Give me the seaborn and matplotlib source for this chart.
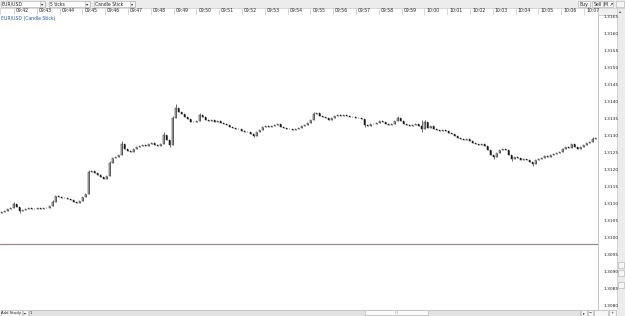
import numpy as np
import pandas as pd
import matplotlib
matplotlib.use("Agg")
import matplotlib.pyplot as plt
from matplotlib.patches import Rectangle
import seaborn as sns

# ---------------- data ----------------
symbol = "EUR/USD"
period_label = "5 ticks"
chart_type = "Candle Stick"
chart_title = "EUR/USD (Candle Stick)"

time_labels = ["09:42", "09:43", "09:44", "09:45", "09:46", "09:47", "09:48", "09:49",
               "09:50", "09:51", "09:52", "09:53", "09:54", "09:55", "09:56", "09:57",
               "09:58", "09:59", "10:00", "10:01", "10:02", "10:03", "10:04", "10:05",
               "10:06", "10:07"]

price_ticks = [1.3080, 1.3085, 1.3090, 1.3095, 1.3100, 1.3105, 1.3110, 1.3115, 1.3120,
               1.3125, 1.3130, 1.3135, 1.3140, 1.3145, 1.3150, 1.3155, 1.3160, 1.3165]

first_open = 1.31072
closes = [
    1.31075, 1.31078, 1.31084, 1.31087, 1.31099, 1.31090, 1.31078, 1.31081, 1.31084, 1.31087,
    1.31084, 1.31084, 1.31087, 1.31084, 1.31087, 1.31087, 1.31093, 1.31105, 1.31122, 1.31119,
    1.31116, 1.31116, 1.31113, 1.31110, 1.31105, 1.31102, 1.31107, 1.31119, 1.31128, 1.31193,
    1.31196, 1.31190, 1.31184, 1.31178, 1.31172, 1.31181, 1.31219, 1.31234, 1.31237, 1.31243,
    1.31275, 1.31260, 1.31254, 1.31252, 1.31260, 1.31266, 1.31269, 1.31272, 1.31269, 1.31275,
    1.31278, 1.31272, 1.31269, 1.31275, 1.31302, 1.31287, 1.31272, 1.31351, 1.31381, 1.31369,
    1.31363, 1.31354, 1.31349, 1.31340, 1.31340, 1.31343, 1.31360, 1.31354, 1.31346, 1.31343,
    1.31346, 1.31340, 1.31343, 1.31337, 1.31334, 1.31331, 1.31325, 1.31322, 1.31319, 1.31319,
    1.31313, 1.31310, 1.31310, 1.31304, 1.31299, 1.31310, 1.31316, 1.31325, 1.31328, 1.31325,
    1.31328, 1.31331, 1.31334, 1.31325, 1.31322, 1.31319, 1.31319, 1.31316, 1.31319, 1.31322,
    1.31328, 1.31331, 1.31337, 1.31346, 1.31363, 1.31366, 1.31357, 1.31354, 1.31351, 1.31346,
    1.31351, 1.31357, 1.31360, 1.31357, 1.31360, 1.31357, 1.31354, 1.31354, 1.31351, 1.31351,
    1.31349, 1.31331, 1.31328, 1.31334, 1.31334, 1.31337, 1.31343, 1.31340, 1.31334, 1.31331,
    1.31334, 1.31343, 1.31351, 1.31343, 1.31334, 1.31331, 1.31328, 1.31331, 1.31334, 1.31328,
    1.31319, 1.31340, 1.31322, 1.31328, 1.31319, 1.31316, 1.31313, 1.31316, 1.31313, 1.31307,
    1.31304, 1.31299, 1.31293, 1.31290, 1.31287, 1.31290, 1.31284, 1.31278, 1.31275, 1.31272,
    1.31275, 1.31269, 1.31257, 1.31243, 1.31237, 1.31249, 1.31257, 1.31260, 1.31257, 1.31243,
    1.31231, 1.31237, 1.31234, 1.31228, 1.31231, 1.31228, 1.31222, 1.31216, 1.31228, 1.31231,
    1.31234, 1.31240, 1.31237, 1.31243, 1.31246, 1.31249, 1.31252, 1.31260, 1.31266, 1.31263,
    1.31275, 1.31266, 1.31260, 1.31266, 1.31272, 1.31278, 1.31281, 1.31290, 1.31293,
]
# wick extremes beyond the candle body (only where visible)
spike_highs = {4: 1.31105, 17: 1.31110, 29: 1.31199, 36: 1.31225, 40: 1.31284, 54: 1.31310,
               57: 1.31357, 58: 1.31393, 66: 1.31366, 104: 1.31369, 132: 1.31357,
               140: 1.31346, 141: 1.31346, 187: 1.31263, 197: 1.31296}
spike_lows = {6: 1.31072, 56: 1.31266, 84: 1.31296, 121: 1.31325, 140: 1.31310,
              164: 1.31231, 170: 1.31225, 177: 1.31210, 190: 1.31263}
price_line = 1.30981

# ---------------- frame ----------------
opens = [first_open] + closes[:-1]
df = pd.DataFrame({"open": opens, "close": closes})
df["idx"] = np.arange(len(df))
df["high"] = [spike_highs.get(i, max(o, c)) for i, (o, c) in enumerate(zip(opens, closes))]
df["low"] = [spike_lows.get(i, min(o, c)) for i, (o, c) in enumerate(zip(opens, closes))]
df["up"] = df["close"] >= df["open"]

sns.set_style("white")
plt.rcParams["font.family"] = ["DejaVu Sans"]

W, H = 625, 316
fig = plt.figure(figsize=(W / 100, H / 100), dpi=100)
fig.patch.set_facecolor("white")

# UI chrome layer in pixel coordinates
ui = fig.add_axes([0, 0, 1, 1], zorder=0)
ui.set_xlim(0, W)
ui.set_ylim(H, 0)
ui.axis("off")

def box(x0, y0, x1, y1, fc="white", ec="#b8b8b8", lw=0.5, z=1):
    ui.add_patch(Rectangle((x0, y0), x1 - x0, y1 - y0, facecolor=fc, edgecolor=ec, lw=lw, zorder=z))

# toolbar
box(0, 0, W, 8, fc="#ececec", ec="none")
fs_ui = 3.3
for (x0, x1, txt) in [(0, 45, symbol), (48, 90, period_label), (93, 135, chart_type)]:
    box(x0 + 0.5, 0.8, x1, 7.2)
    box(x1 - 5, 0.8, x1, 7.2, fc="#f4f4f4")
    ui.text(x0 + 2, 4.1, txt, fontsize=fs_ui, va="center", ha="left", color="#222222", zorder=3)
    ui.text(x1 - 2.5, 4.1, "▾", fontsize=3.2, va="center", ha="center", color="#333333", zorder=3)
for (x0, x1, txt) in [(578, 590, "Buy"), (592, 603, "Sell"), (604, 613, "M ↗")]:
    box(x0, 0.8, x1, 7.2, fc="#f6f6f6")
    ui.text((x0 + x1) / 2, 4.1, txt, fontsize=fs_ui, va="center", ha="center", color="#222222", zorder=3)
box(616, 0.8, 624, 7.2, fc="#f6f6f6")

# time header row
box(0, 8, 598, 15, fc="white", ec="#c8c8c8")
box(598, 8, 617, 15, fc="#f0f0f0", ec="#c8c8c8")
box(617, 8, W, 316, fc="#ececec", ec="#c8c8c8")
ui.text(620.5, 11.5, "▴", fontsize=3, va="center", ha="center", color="#444444", zorder=3)

# price axis column
box(598, 15, 617, 310, fc="white", ec="#c8c8c8")

# bottom bar
box(0, 309.5, W, H, fc="#ececec", ec="none")
box(0.5, 310, 22, 315.5, fc="#f6f6f6")
ui.text(11, 312.8, "Add Study", fontsize=2.8, va="center", ha="center", color="#222222", zorder=3)
box(23, 310, 27.5, 315.5, fc="#f6f6f6")
ui.text(25.2, 312.8, "▾", fontsize=2.8, va="center", ha="center", zorder=3)
box(28.5, 310, 580, 315.5, fc="#e2e2e2")
ui.text(31, 312.8, "1", fontsize=2.8, va="center", ha="center", zorder=3)
box(365, 310.3, 428, 315.2, fc="#fbfbfb")
ui.text(396.5, 312.8, "|||", fontsize=2.5, va="center", ha="center", color="#888888", zorder=3)
for (x0, x1, t) in [(581, 587, "▸"), (588, 593, "−"), (594, 608, ""), (609, 616, "+")]:
    box(x0, 310, x1, 315.5, fc="#f6f6f6")
    ui.text((x0 + x1) / 2, 312.8, t, fontsize=2.8, va="center", ha="center", zorder=3)

# right strip buttons
for yy in [262, 270, 282]:
    box(618, yy, 624, yy + 6, fc="#f6f6f6")

# ---------------- main chart ----------------
left_px, right_px, top_px, bot_px = 0, 598, 15, 310
ax = fig.add_axes([left_px / W, (H - bot_px) / H, (right_px - left_px) / W, (bot_px - top_px) / H],
                  zorder=2)
ax.set_facecolor("white")

# wicks
ax.vlines(df["idx"], df["low"], df["high"], color="#1a1a1a", lw=0.45, zorder=2)
# bodies
up = df[df["up"]]
dn = df[~df["up"]]
ax.bar(up["idx"], (up["close"] - up["open"]).clip(lower=0.000004), bottom=up["open"], width=0.5,
       facecolor="white", edgecolor="#1a1a1a", lw=0.35, zorder=3)
ax.bar(dn["idx"], (dn["open"] - dn["close"]).clip(lower=0.000004), bottom=dn["close"], width=0.5,
       facecolor="#1a1a1a", edgecolor="#1a1a1a", lw=0.35, zorder=3)

ax.axhline(price_line, color="#9a8a8a", lw=0.9, zorder=1)

# x range: candle i centred at 1.5 + 3 i pixels
n_px = right_px - left_px
ax.set_xlim(-0.5, -0.5 + n_px / 3)
ax.set_ylim(1.30787, 1.31654)

candles_per_minute = 22.8 / 3
first_minute_pos = (16 - 1.5) / 3
ax.xaxis.tick_top()
ax.set_xticks([first_minute_pos + k * candles_per_minute for k in range(len(time_labels))])
ax.set_xticklabels(time_labels, fontsize=3.3, ha="left", color="#222222")
ax.tick_params(axis="x", length=0, pad=1.2)

ax.yaxis.tick_right()
ax.set_yticks(price_ticks)
ax.set_yticklabels([f"{p:.4f}" for p in price_ticks], fontsize=3.2, color="#222222")
ax.tick_params(axis="y", length=0, pad=3.8)

for s in ["left", "bottom", "top"]:
    ax.spines[s].set_visible(False)
ax.spines["right"].set_color("#c0c0c0")
ax.spines["right"].set_linewidth(0.5)

# header separators aligned to minute ticks
for k in range(len(time_labels)):
    xp = 14 + k * 22.8
    ui.plot([xp, xp], [8, 15], color="#c8c8c8", lw=0.5, zorder=2)

ax.text(0.002, 1 - 3.5 / (bot_px - top_px), chart_title, transform=ax.transAxes,
        fontsize=3.3, color="#2a5a9a", va="center", ha="left")

fig.savefig("out.png", dpi=100)
